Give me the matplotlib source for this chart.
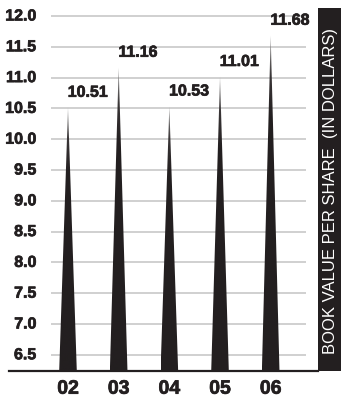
import numpy as np
import matplotlib
matplotlib.use("Agg")
import matplotlib.pyplot as plt
import matplotlib.patheffects as pe
from matplotlib.patches import Polygon, Rectangle
from matplotlib.colors import LinearSegmentedColormap
from matplotlib.transforms import blended_transform_factory

years = ["02", "03", "04", "05", "06"]
book_value = [10.51, 11.16, 10.53, 11.01, 11.68]
y_ticks = [6.5, 7.0, 7.5, 8.0, 8.5, 9.0, 9.5, 10.0, 10.5, 11.0, 11.5, 12.0]
axis_title = "BOOK VALUE PER SHARE  (IN DOLLARS)"

W, H = 341, 399
DARK = "#231f20"
GRID = "#c4c4c4"
bold_font = ["Liberation Sans Narrow", "Liberation Sans", "DejaVu Sans"]
plain_font = ["Liberation Sans", "DejaVu Sans"]
heavy = [pe.withStroke(linewidth=0.5, foreground=DARK)]

fig = plt.figure(figsize=(W / 100, H / 100), dpi=100)
fig.patch.set_facecolor("white")

# plot area in pixel terms
left_px, right_px, top_px, bottom_px = 9, 318, 8, 371
ax = fig.add_axes([left_px / W, 1 - bottom_px / H,
                   (right_px - left_px) / W, (bottom_px - top_px) / H])

ymin, ymax = 6.237, 12.13
spacing = 50.67
x0 = 68

# horizontal grid lines
gx0 = (51 - x0) / spacing
gx1 = (306 - x0) / spacing
ax.hlines(y_ticks, gx0, gx1, colors=GRID, linewidth=1.1, zorder=1)

# spike-shaped columns with a lighter tip
half_w = 8.8 / spacing
cmap = LinearSegmentedColormap.from_list(
    "spike", [(0.0, "#9a9a9a"), (0.12, "#3a3637"), (0.25, DARK), (1.0, DARK)])
grad = np.linspace(0, 1, 256).reshape(-1, 1)
for i, v in enumerate(book_value):
    tri = Polygon([(i - half_w, ymin), (i, v), (i + half_w, ymin)],
                  closed=True, facecolor="none", edgecolor="none")
    ax.add_patch(tri)
    im = ax.imshow(grad, cmap=cmap, aspect="auto",
                   extent=[i - half_w, i + half_w, ymin, v],
                   origin="upper", zorder=2, interpolation="bilinear")
    im.set_clip_path(tri)
    ax.text(i - 0.005, v + 0.13, f"{v:.2f}", ha="left", va="bottom",
            fontsize=11.5, fontweight="bold", family=bold_font,
            color=DARK, zorder=3, path_effects=heavy)

ax.set_xlim((left_px - x0) / spacing, (right_px - x0) / spacing)
ax.set_ylim(ymin, ymax)

# y tick labels
trans = blended_transform_factory(fig.transFigure, ax.transData)
for t in y_ticks:
    ax.text(36.5 / W, t, f"{t:.1f}", transform=trans, ha="right", va="center",
            fontsize=11.5, fontweight="bold", family=bold_font, color=DARK,
            path_effects=heavy)

ax.set_xticks(range(len(years)))
ax.set_xticklabels(years, fontsize=14, fontweight="bold", family=bold_font,
                   color=DARK)
for lbl in ax.get_xticklabels():
    lbl.set_path_effects(heavy)
ax.tick_params(axis="x", length=0, pad=7)
ax.set_yticks([])

for s in ["top", "right", "left"]:
    ax.spines[s].set_visible(False)
ax.spines["bottom"].set_linewidth(1.6)
ax.spines["bottom"].set_color(DARK)
ax.patch.set_alpha(0)

# dark title band on the right
fig.patches.append(Rectangle((318 / W, 1 - 371 / H), (W - 318) / W, 363 / H,
                             transform=fig.transFigure, facecolor=DARK,
                             edgecolor="none", zorder=0))
fig.text(331 / W, 1 - 191 / H, axis_title, rotation=90, ha="center",
         va="center", color="white", fontsize=12, family=plain_font)

fig.savefig("out.png", dpi=100)
